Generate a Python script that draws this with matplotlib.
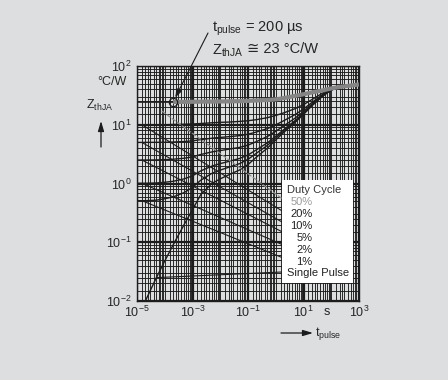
import numpy as np
import matplotlib
matplotlib.use('Agg')
import matplotlib.pyplot as plt
from matplotlib.ticker import FixedLocator, LogLocator, NullFormatter, LogFormatterSciNotation
from matplotlib.patches import Rectangle

plt.rcParams['font.family'] = ['Liberation Sans', 'DejaVu Sans']
plt.rcParams['mathtext.fontset'] = 'custom'
plt.rcParams['mathtext.rm'] = 'Liberation Sans'
plt.rcParams['mathtext.it'] = 'Liberation Sans'
plt.rcParams['mathtext.default'] = 'regular'

# pulse duration in s
t_pulse = [1e-5, 2e-5, 5e-5, 1e-4, 2e-4, 5e-4, 1e-3, 2e-3, 5e-3, 1e-2, 2e-2, 5e-2,
           0.1, 0.2, 0.5, 1, 2, 5, 10, 20, 50, 100, 200, 500, 1000]
# Z_thJA in degC/W for each duty cycle
z_single = [0.0055, 0.01, 0.025, 0.048, 0.09, 0.2, 0.36, 0.65, 1.0, 1.2, 1.4, 1.7,
            2.1, 2.8, 4.0, 5.5, 7.5, 11, 15, 21, 31, 39, 43.5, 46.5, 48]
z_1 = [0.51, 0.51, 0.52, 0.55, 0.59, 0.70, 0.86, 1.14, 1.49, 1.69, 1.89, 2.18,
       2.58, 3.27, 4.46, 5.95, 7.93, 11.4, 15.4, 21.3, 31.2, 39.1, 43.6, 46.5, 48.0]
z_2 = [1.01, 1.01, 1.02, 1.05, 1.09, 1.20, 1.35, 1.64, 1.98, 2.18, 2.37, 2.67,
       3.06, 3.74, 4.92, 6.39, 8.35, 11.8, 15.7, 21.6, 31.4, 39.2, 43.6, 46.6, 48.0]
z_5 = [2.51, 2.51, 2.52, 2.55, 2.59, 2.69, 2.84, 3.12, 3.45, 3.64, 3.83, 4.12,
       4.50, 5.16, 6.30, 7.73, 9.63, 13.0, 16.8, 22.5, 32.0, 39.5, 43.8, 46.7, 48.0]
z_10 = [5.0, 5.01, 5.02, 5.04, 5.08, 5.18, 5.32, 5.59, 5.90, 6.08, 6.26, 6.53,
        6.89, 7.52, 8.60, 9.95, 11.8, 14.9, 18.5, 23.9, 32.9, 40.1, 44.2, 46.9, 48.0]
z_20 = [10.0, 10.0, 10.0, 10.0, 10.1, 10.2, 10.3, 10.5, 10.8, 11.0, 11.1, 11.4,
        11.7, 12.2, 13.2, 14.4, 16.0, 18.8, 22.0, 26.8, 34.8, 41.2, 44.8, 47.2, 48.0]
z_50 = [24.5, 24.5, 24.5, 24.5, 24.5, 24.5, 24.6, 24.7, 24.8, 24.9, 25.0, 25.2,
        25.5, 25.9, 26.4, 27.0, 28.5, 31.0, 33.0, 35.5, 38.5, 41.5, 44.0, 46.5, 48.5]

t_mark = 2e-4
z_mark = 24.5

labels = ['50%', '20%', '10%', '5%', '2%', '1%', 'Single Pulse']
x_ticks = [1e-5, 1e-3, 1e-1, 1e1, 1e3]

bg = '#dddee0'
ink = '#1c1c1c'
txt = '#262626'

fig = plt.figure(figsize=(4.48, 3.80), dpi=100, facecolor=bg)
ax = fig.add_axes([137/448, 79/380, 222/448, 235/380])
ax.set_facecolor(bg)
ax.set_xscale('log')
ax.set_yscale('log')
ax.set_xlim(1e-5, 1e3)
ax.set_ylim(1e-2, 1e2)

# dense log grid
ax.xaxis.set_major_locator(FixedLocator(x_ticks))
ax.xaxis.set_major_formatter(LogFormatterSciNotation())
ax.xaxis.set_minor_locator(LogLocator(base=10, subs=[1, 1.5, 2, 2.5, 3, 4, 5, 6, 7, 8, 9], numticks=40))
ax.xaxis.set_minor_formatter(NullFormatter())
ax.yaxis.set_major_locator(LogLocator(base=10, numticks=10))
ax.yaxis.set_minor_locator(LogLocator(base=10, subs=[1.5, 2, 2.5, 3, 4, 5, 6, 7, 8, 9], numticks=40))
ax.yaxis.set_minor_formatter(NullFormatter())
ax.set_axisbelow(True)
ax.grid(which='minor', color=ink, lw=0.65)
ax.grid(which='major', color=ink, lw=1.6)
ax.tick_params(which='both', length=0, labelsize=9, colors=txt)
ax.tick_params(axis='x', pad=3)
ax.tick_params(axis='y', pad=4)
for s in ax.spines.values():
    s.set_color(ink)
    s.set_linewidth(1.0)

t = np.array(t_pulse)
curves = [z_20, z_10, z_5, z_2, z_1, z_single]
for z in curves:
    ax.plot(t, z, color=ink, lw=1.0, zorder=2)
z50 = np.array(z_50)
ax.plot(t[t <= t_mark], z50[t <= t_mark], color=ink, lw=1.2, zorder=2)
ax.plot(t[t >= t_mark], z50[t >= t_mark], color='#858585', lw=3.0, zorder=3,
        solid_capstyle='butt')
ax.plot([t_mark], [z_mark], 'o', ms=6, mfc='none', mec=ink, mew=0.9, zorder=4)

# label box
ax.add_patch(Rectangle((0.653, 0.077), 0.32, 0.438, transform=ax.transAxes,
                       facecolor='white', edgecolor='none', zorder=5))
ax.text(0.676, 0.472, 'Duty Cycle', transform=ax.transAxes, fontsize=8,
        color='#333333', va='center', ha='left', zorder=6)
lab_y = [0.421, 0.370, 0.319, 0.268, 0.217, 0.166]
for lab, y in zip(labels[:-1], lab_y):
    ax.text(0.790, y, lab, transform=ax.transAxes, fontsize=8, va='center', ha='right',
            color='#9a9a9a' if lab == '50%' else '#222222', zorder=6)
ax.text(0.676, 0.119, labels[-1], transform=ax.transAxes, fontsize=8,
        va='center', ha='left', color='#222222', zorder=6)

# leader lines from the curves to the labels
lead_from = [(8e-5, 17), (1.5e-5, z_20[0]), (1.5e-5, z_10[0]), (1.5e-5, z_5[0]),
             (1.5e-5, z_2[0]), (1.5e-5, z_1[0]), (5e-5, z_single[2])]
lead_to = [(0.662, 0.430), (0.668, 0.375), (0.676, 0.324), (0.698, 0.273),
           (0.698, 0.222), (0.690, 0.171), (0.667, 0.124)]
for (x0, y0), (x1, y1), lab in zip(lead_from, lead_to, labels):
    if lab == '50%':
        ap = dict(arrowstyle='-', color='#8c8c8c', lw=0.9, ls=(0, (3, 2)),
                  shrinkA=0, shrinkB=0)
    else:
        ap = dict(arrowstyle='-', color=ink, lw=0.8, shrinkA=0, shrinkB=0)
    ax.annotate('', xy=(x1, y1), xycoords='axes fraction', xytext=(x0, y0),
                textcoords='data', arrowprops=ap, zorder=4)

# annotation of the marked point
ax.annotate('', xy=(t_mark, z_mark), xycoords='data', xytext=(208, 347),
            textcoords='figure pixels',
            arrowprops=dict(arrowstyle='-|>,head_length=0.5,head_width=0.18', color=ink,
                            lw=0.8, shrinkA=0, shrinkB=3.5), zorder=6)
fig.text(212, 351, r't$_{pulse}$ = 200 µs', transform=None, fontsize=10.5,
         color=txt, va='center', ha='left')
zt = fig.text(212, 329, r'Z$_{thJA}$', transform=None, fontsize=10.5,
              color=txt, va='center', ha='left')
fig.canvas.draw()
bb = zt.get_window_extent()
fig.text(bb.x1 + 3, 331, '≅ 23 °C/W', transform=None, fontsize=10.5,
         color=txt, va='center', ha='left', family=['Liberation Sans', 'DejaVu Sans'])

# axis captions
fig.text(127, 298, '°C/W', transform=None, fontsize=9, color=txt,
         ha='right', va='center')
fig.text(86, 275, r'Z$_{thJA}$', transform=None, fontsize=9, color=txt,
         ha='left', va='center')
ax.annotate('', xy=(101, 259), xycoords='figure pixels', xytext=(101, 233),
            textcoords='figure pixels',
            arrowprops=dict(arrowstyle='-|>,head_length=0.6,head_width=0.18', color=ink,
                            lw=0.9, shrinkA=0, shrinkB=0))
ax.text(0.856, -0.047, 's', transform=ax.transAxes, fontsize=9, color=txt,
        ha='center', va='center')
ax.annotate('', xy=(313, 47), xycoords='figure pixels', xytext=(281, 47),
            textcoords='figure pixels',
            arrowprops=dict(arrowstyle='-|>,head_length=0.6,head_width=0.18', color=ink,
                            lw=0.9, shrinkA=0, shrinkB=0))
fig.text(315, 47, r't$_{pulse}$', transform=None, fontsize=9, color=txt,
         ha='left', va='center')

fig.savefig('out.png', dpi=100, facecolor=bg)
